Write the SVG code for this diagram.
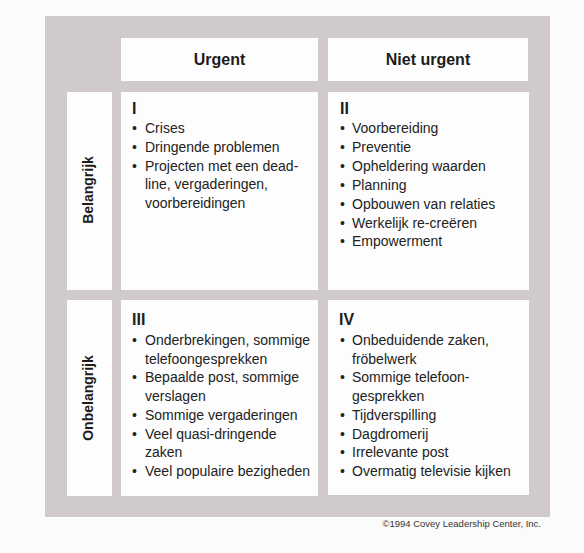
<svg xmlns="http://www.w3.org/2000/svg" width="584" height="553" viewBox="0 0 584 553">
<style>
.cell{fill:#fdfdfd}
.hd{font-family:"Liberation Sans",Arial,sans-serif;font-weight:bold;font-size:16px;fill:#1c1c1c;text-anchor:middle}
.rl{font-family:"Liberation Sans",Arial,sans-serif;font-weight:bold;font-size:14px;fill:#1c1c1c;text-anchor:middle}
.num{font-family:"Liberation Sans",Arial,sans-serif;font-weight:bold;font-size:16px;fill:#1c1c1c}
.tx{font-family:"Liberation Sans",Arial,sans-serif;font-size:14px;fill:#222}
.cp{font-family:"Liberation Sans",Arial,sans-serif;font-size:9.5px;fill:#333;text-anchor:end}
</style>
<rect width="584" height="553" fill="#fbfbfb"/>
<rect x="45" y="16" width="505" height="501" fill="#d1caca"/>
<g id="header-urgent">
<rect class="cell" x="121" y="38" width="197" height="43"/>
<text class="hd" x="219.5" y="65">Urgent</text>
</g>
<g id="header-niet-urgent">
<rect class="cell" x="328" y="38" width="200" height="43"/>
<text class="hd" x="428" y="65">Niet urgent</text>
</g>
<g id="label-belangrijk">
<rect class="cell" x="67" y="92" width="45" height="198"/>
<text class="rl" transform="translate(93,190) rotate(-90)">Belangrijk</text>
</g>
<g id="label-onbelangrijk">
<rect class="cell" x="67" y="300" width="45" height="196"/>
<text class="rl" transform="translate(93,398) rotate(-90)">Onbelangrijk</text>
</g>
<g id="quadrant-1">
<rect class="cell" x="121" y="92" width="197" height="198"/>
<text class="num" x="132" y="114">I</text>
<g class="tx">
<text x="132" y="133">•</text><text x="145" y="133">Crises</text>
<text x="132" y="151.8">•</text><text x="145" y="151.8">Dringende problemen</text>
<text x="132" y="170.6">•</text><text x="145" y="170.6">Projecten met een dead-</text>
<text x="145" y="189.4">line, vergaderingen,</text>
<text x="145" y="208.2">voorbereidingen</text>
</g>
</g>
<g id="quadrant-2">
<rect class="cell" x="328" y="92" width="201" height="198"/>
<text class="num" x="340" y="114">II</text>
<g class="tx">
<text x="340" y="133">•</text><text x="352" y="133">Voorbereiding</text>
<text x="340" y="151.9">•</text><text x="352" y="151.9">Preventie</text>
<text x="340" y="170.8">•</text><text x="352" y="170.8">Opheldering waarden</text>
<text x="340" y="189.7">•</text><text x="352" y="189.7">Planning</text>
<text x="340" y="208.6">•</text><text x="352" y="208.6">Opbouwen van relaties</text>
<text x="340" y="227.5">•</text><text x="352" y="227.5">Werkelijk re-creëren</text>
<text x="340" y="246.4">•</text><text x="352" y="246.4">Empowerment</text>
</g>
</g>
<g id="quadrant-3">
<rect class="cell" x="121" y="300" width="197" height="196"/>
<text class="num" x="132" y="325">III</text>
<g class="tx">
<text x="132" y="345">•</text><text x="145" y="345">Onderbrekingen, sommige</text>
<text x="145" y="363.7">telefoongesprekken</text>
<text x="132" y="382.4">•</text><text x="145" y="382.4">Bepaalde post, sommige</text>
<text x="145" y="401.1">verslagen</text>
<text x="132" y="419.8">•</text><text x="145" y="419.8">Sommige vergaderingen</text>
<text x="132" y="438.5">•</text><text x="145" y="438.5">Veel quasi-dringende</text>
<text x="145" y="457.2">zaken</text>
<text x="132" y="475.9">•</text><text x="145" y="475.9">Veel populaire bezigheden</text>
</g>
</g>
<g id="quadrant-4">
<rect class="cell" x="328" y="300" width="201" height="195"/>
<text class="num" x="339" y="325">IV</text>
<g class="tx">
<text x="340" y="345">•</text><text x="352" y="345">Onbeduidende zaken,</text>
<text x="352" y="363.7">fröbelwerk</text>
<text x="340" y="382.4">•</text><text x="352" y="382.4">Sommige telefoon-</text>
<text x="352" y="401.1">gesprekken</text>
<text x="340" y="419.8">•</text><text x="352" y="419.8">Tijdverspilling</text>
<text x="340" y="438.5">•</text><text x="352" y="438.5">Dagdromerij</text>
<text x="340" y="457.2">•</text><text x="352" y="457.2">Irrelevante post</text>
<text x="340" y="475.9">•</text><text x="352" y="475.9">Overmatig televisie kijken</text>
</g>
</g>
<g id="connectors"/>
<text class="cp" x="541" y="527">©1994 Covey Leadership Center, Inc.</text>
</svg>
